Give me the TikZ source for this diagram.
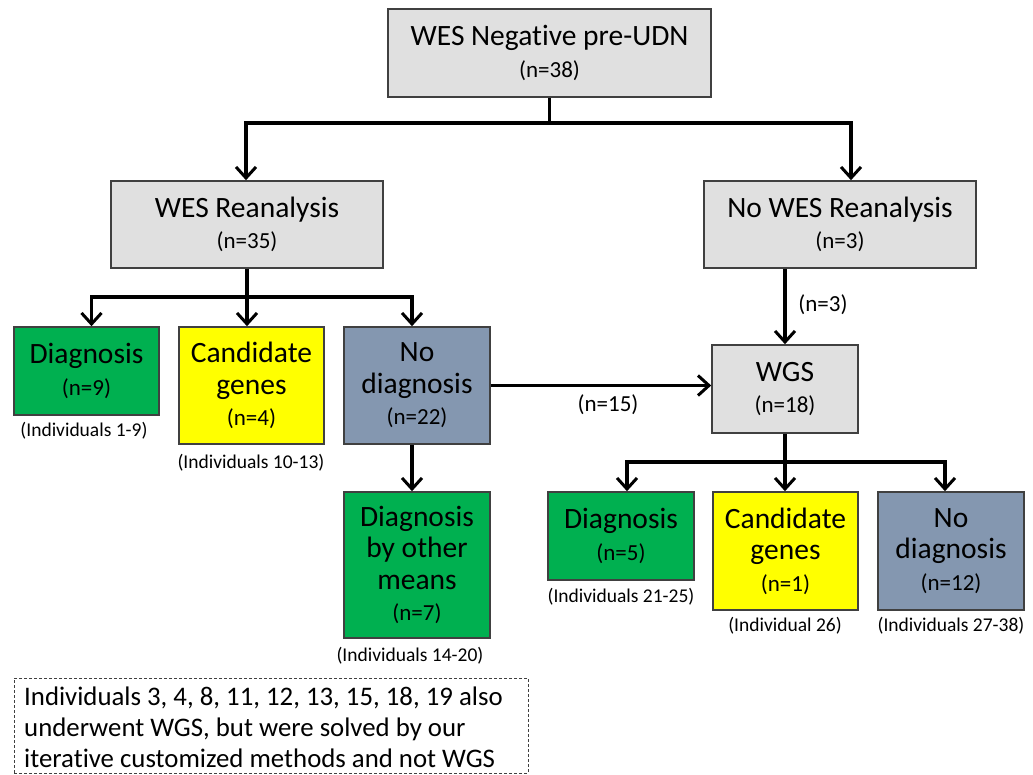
\documentclass[tikz,border=0pt]{standalone}
\usepackage{fontspec}
\setmainfont{Carlito}[Ligatures={NoCommon,NoDiscretionary,NoContextual}]
\usetikzlibrary{arrows.meta,calc}
\definecolor{boxgray}{HTML}{E0E0E0}
\definecolor{edgegray}{HTML}{404040}
\definecolor{dxgreen}{HTML}{00B050}
\definecolor{candyellow}{HTML}{FFFF00}
\definecolor{nodxblue}{HTML}{8497B0}
\newcommand{\nsize}{\fontsize{23}{31.5}\selectfont}
\tikzset{
  box/.style={draw=edgegray, line width=1.6pt, align=center, inner sep=2pt,
    font=\fontsize{29.5}{31.5}\selectfont},
  graybox/.style={box, fill=boxgray},
  greenbox/.style={box, fill=dxgreen},
  yellowbox/.style={box, fill=candyellow},
  bluebox/.style={box, fill=nodxblue},
  indiv/.style={font=\fontsize{19.5}{22}\selectfont, inner sep=0pt},
  lbl/.style={font=\fontsize{23}{26}\selectfont, inner sep=0pt},
  ln/.style={line width=3.2pt, black},
  arr/.style={ln, -{Straight Barb[length=11pt,width=20pt,line width=3pt]}},
  noteframe/.style={draw=edgegray, line width=1pt, dash pattern=on 3pt off 2pt,
    minimum width=514pt, minimum height=95pt, inner sep=0pt},
  notetext/.style={align=left, inner sep=0pt, font=\fontsize{26.8}{31}\selectfont}
}
\begin{document}
\begin{tikzpicture}[x=1pt,y=-1pt]
\useasboundingbox (0,0) rectangle (1033,775);
% nodes
\node[graybox, minimum width=323pt, minimum height=88pt] (top) at (549.5,53) {WES Negative pre-UDN\\{\nsize (n=38)}};
\node[graybox, minimum width=272pt, minimum height=87pt] (wesR) at (247,224.5) {WES Reanalysis\\{\nsize (n=35)}};
\node[graybox, minimum width=272pt, minimum height=87pt] (nowes) at (840,224.5) {No WES Reanalysis\\{\nsize (n=3)}};
\node[greenbox, minimum width=145pt, minimum height=88pt] (diag1) at (86.5,371) {Diagnosis\\{\nsize (n=9)}};
\node[yellowbox, minimum width=145pt, minimum height=117pt] (cand1) at (251.5,385.5) {Candidate\\genes\\{\nsize (n=4)}};
\node[bluebox, minimum width=146pt, minimum height=117pt] (nodiag1) at (417,385.5) {No\\diagnosis\\{\nsize (n=22)}};
\node[greenbox, minimum width=146pt, minimum height=146pt] (other) at (417,565) {Diagnosis\\by other\\means\\{\nsize (n=7)}};
\node[graybox, minimum width=146pt, minimum height=88pt] (wgs) at (785,389) {WGS\\{\nsize (n=18)}};
\node[greenbox, minimum width=146pt, minimum height=88pt] (diag2) at (621,536) {Diagnosis\\{\nsize (n=5)}};
\node[yellowbox, minimum width=145pt, minimum height=118pt] (cand2) at (785.5,551) {Candidate\\genes\\{\nsize (n=1)}};
\node[bluebox, minimum width=146pt, minimum height=118pt] (nodiag2) at (951,551) {No\\diagnosis\\{\nsize (n=12)}};
% individuals labels
\node[indiv] (i1) at (84,431) {(Individuals 1-9)};
\node[indiv] (i2) at (251,463) {(Individuals 10-13)};
\node[indiv] (i3) at (410,656) {(Individuals 14-20)};
\node[indiv] (i4) at (621,597) {(Individuals 21-25)};
\node[indiv] (i5) at (785,626) {(Individual 26)};
\node[indiv] (i6) at (951,626) {(Individuals 27-38)};
% note
\node[noteframe] (note) at (271,725.5) {};
\node[notetext, anchor=west] (notetxt) at (24,727) {Individuals 3, 4, 8, 11, 12, 13, 15, 18, 19 also\\underwent WGS, but were solved by our\\iterative customized methods and not WGS};
% connectors
\coordinate (b1) at (top.south |- 0,123);
\draw[ln] (top.south) -- (b1);
\draw[arr] (b1) -| ([xshift=-1pt]wesR.north);
\draw[arr] (b1) -| ([xshift=11pt]nowes.north);
\coordinate (b2) at (247,297);
\draw[ln] (wesR.south) -- (b2);
\draw[arr] (b2) -| ([xshift=5pt]diag1.north);
\draw[arr] (b2) -- (b2 |- cand1.north);
\draw[arr] (b2) -| ([xshift=-5pt]nodiag1.north);
\draw[arr] ([xshift=-5pt]nodiag1.south) -- ([xshift=-5pt]other.north);
\draw[arr] (nodiag1.east) -- (nodiag1.east -| wgs.west);
\node[lbl] (n15) at (608,405) {(n=15)};
\draw[arr] (nowes.south -| wgs.north) -- (wgs.north);
\node[lbl] (n3) at (823,305) {(n=3)};
\coordinate (b3) at (785,462);
\draw[ln] (wgs.south) -- (b3);
\draw[arr] (b3) -| ([xshift=6pt]diag2.north);
\draw[arr] (b3) -- (b3 |- cand2.north);
\draw[arr] (b3) -| ([xshift=-6pt]nodiag2.north);
\end{tikzpicture}
\end{document}
